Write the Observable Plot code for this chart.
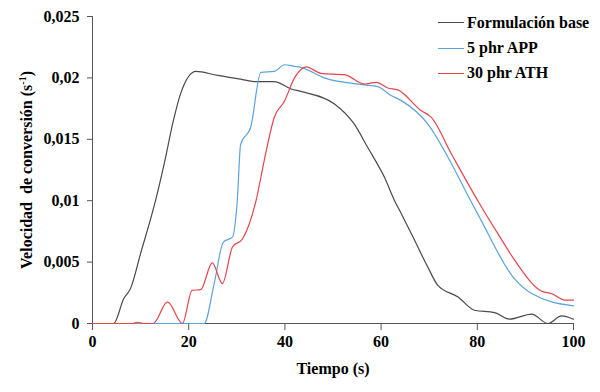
<!DOCTYPE html>
<html>
<head>
<meta charset="utf-8">
<script src="https://cdn.jsdelivr.net/npm/d3@7"></script>
<script src="https://cdn.jsdelivr.net/npm/@observablehq/plot@0.6"></script>
<style>
  body { margin: 0; background: #fff; }
</style>
</head>
<body>
<div id="wrap" style="position: relative; width: 600px; height: 392px;"><div id="legend"></div></div>
<script>
const seriesNames = ["Formulación base", "5 phr APP", "30 phr ATH"];
const seriesColors = ["#4a4a4a", "#5ba3de", "#e4454b"];

const baseT = [0, 4.4, 6.5, 7.9, 10, 13.1, 14.9, 16.8, 18.3, 21.5, 26, 30.8, 33.6, 37.8, 41.3, 43.3, 50.3, 54.4, 57.2, 60.7, 62.8, 64.2, 66.3, 69.7, 71.8, 76, 79.4, 83.6, 86.7, 91.3, 94.7, 97.5, 100];
const baseV = [0, 0, 0.00203, 0.00284, 0.0057, 0.01, 0.013, 0.0165, 0.0187, 0.02053, 0.0202, 0.0199, 0.0197, 0.0197, 0.0191, 0.0189, 0.01788, 0.01625, 0.01435, 0.0119, 0.01, 0.00894, 0.0073, 0.0046, 0.0031, 0.00216, 0.00108, 0.00089, 0.00035, 0.00076, 0, 0.00062, 0.00035];

const appT = [0, 23.2, 25.3, 27.2, 29.1, 30.1, 30.8, 32.9, 35, 37.8, 39.9, 42, 43.3, 48.2, 56.5, 59.3, 62.1, 64.2, 69.7, 73.9, 78.4, 80.8, 87.4, 91.3, 100];
const appV = [0, 0, 0.00325, 0.00663, 0.00704, 0.01, 0.0146, 0.016, 0.02045, 0.02053, 0.02107, 0.02094, 0.02086, 0.02, 0.01943, 0.01929, 0.01856, 0.01815, 0.01625, 0.01354, 0.01016, 0.0084, 0.0038, 0.00244, 0.00143];

const athT = [0, 8.3, 9.4, 10.6, 12.6, 15.6, 18.7, 20.7, 22.5, 24.9, 27, 29.1, 31.2, 34, 35.7, 37.8, 39.9, 42, 44.4, 47.5, 52.4, 56.5, 59, 61.4, 63.5, 68.3, 70.4, 74.6, 80.1, 84.3, 87.8, 93.3, 95.4, 98.2, 100];
const athV = [0, 0, 0.0001, 0, 0, 0.00176, 0, 0.0027, 0.00276, 0.00493, 0.00325, 0.00623, 0.0069, 0.01, 0.01327, 0.0168, 0.0181, 0.02, 0.0209, 0.02037, 0.02026, 0.0195, 0.01964, 0.01918, 0.01902, 0.01734, 0.0168, 0.01382, 0.01, 0.0073, 0.00514, 0.00265, 0.00244, 0.0019, 0.0019];

const xTicks = [0, 20, 40, 60, 80, 100];
const yTicks = [0, 0.005, 0.01, 0.015, 0.02, 0.025];

const toRows = (ts, vs, s) => ts.map((t, i) => ({t, v: vs[i], s}));
const data = [
  ...toRows(baseT, baseV, seriesNames[0]),
  ...toRows(appT, appV, seriesNames[1]),
  ...toRows(athT, athV, seriesNames[2])
];

const fmt = d => String(d).replace(".", ",");
const FONT = "'Liberation Serif', 'Times New Roman', serif";

const chart = Plot.plot({
  width: 600,
  height: 392,
  marginLeft: 92,
  marginRight: 27,
  marginTop: 16,
  marginBottom: 69,
  style: {fontFamily: FONT, fontSize: "16px", fontWeight: "bold", color: "#000", background: "#fff"},
  x: {domain: [0, 100]},
  y: {domain: [0, 0.025]},
  color: {domain: seriesNames, range: seriesColors},
  marks: [
    Plot.axisX({ticks: xTicks, tickFormat: d => String(d), tickSize: 7, tickPadding: 5, stroke: "#555",
      label: "Tiempo (s)", labelAnchor: "center", labelOffset: 50, labelArrow: "none"}),
    Plot.axisY({ticks: yTicks, tickFormat: fmt, tickSize: 5, tickPadding: 8, stroke: "#555",
      label: "Velocidad  de conversión (s-1)", labelAnchor: "center", labelOffset: 72, labelArrow: "none"}),
    Plot.ruleY([0], {stroke: "#555", strokeWidth: 1}),
    Plot.ruleX([0], {stroke: "#555", strokeWidth: 1}),
    Plot.line(data, {x: "t", y: "v", z: "s", stroke: "s", strokeWidth: 1.2, curve: "monotone-x"})
  ]
});
document.getElementById("wrap").prepend(chart);
chart.style.position = "absolute";
chart.style.left = "0";
chart.style.top = "0";

chart.querySelectorAll("text").forEach(t => {
  t.style.fontFamily = FONT;
  t.style.fontWeight = "700";
  t.style.fontSize = "16px";
  t.setAttribute("fill", "#000");
  if (t.textContent.includes("Velocidad")) {
    while (t.firstChild) t.removeChild(t.firstChild);
    t.style.whiteSpace = "pre";
    const ns = "http://www.w3.org/2000/svg";
    const a = document.createElementNS(ns, "tspan");
    a.textContent = "Velocidad  de conversión (s";
    const b = document.createElementNS(ns, "tspan");
    b.textContent = "-1";
    b.style.fontSize = "10px";
    b.setAttribute("dy", "-6");
    const c = document.createElementNS(ns, "tspan");
    c.textContent = ")";
    c.setAttribute("dy", "6");
    t.appendChild(a); t.appendChild(b); t.appendChild(c);
  }
});

const legend = document.getElementById("legend");
Object.assign(legend.style, {position: "absolute", left: "438px", top: "10px", color: "#000"});
legend.style.font = "bold 16px 'Liberation Serif'";
seriesNames.forEach((n, i) => {
  const row = document.createElement("div");
  Object.assign(row.style, {display: "flex", alignItems: "center", height: "25.4px", whiteSpace: "nowrap"});
  const sw = document.createElement("span");
  Object.assign(sw.style, {width: "26px", height: "0", borderTop: "1.3px solid " + seriesColors[i], marginRight: "3px", flex: "none"});
  const tx = document.createElement("span");
  tx.textContent = n;
  tx.style.font = "bold 16px 'Liberation Serif'";
  row.appendChild(sw);
  row.appendChild(tx);
  legend.appendChild(row);
});
</script>
</body>
</html>
